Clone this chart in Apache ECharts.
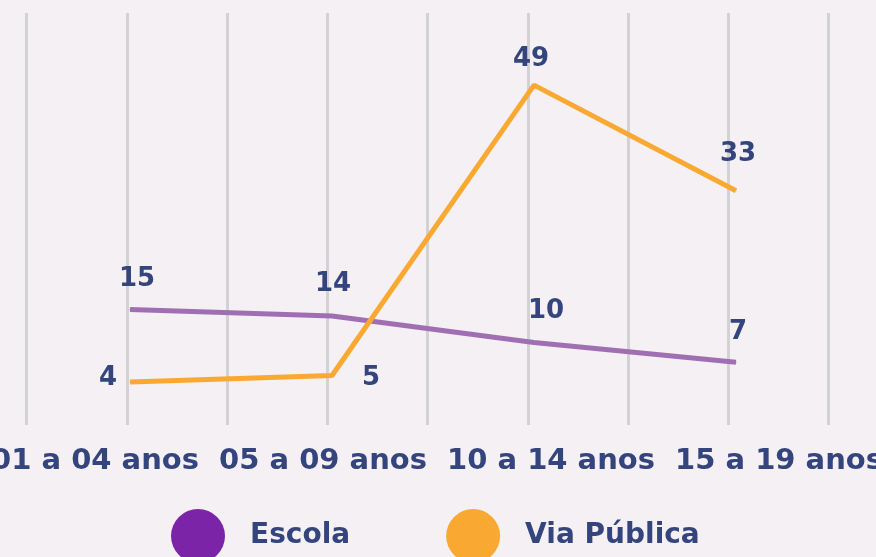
<!DOCTYPE html>
<html>
<head>
<meta charset="utf-8">
<script src="https://cdn.jsdelivr.net/npm/echarts@6/dist/echarts.min.js"></script>
<style>
html,body{margin:0;padding:0;background:#f4f0f3;}
#c{width:876px;height:557px;}
</style>
</head>
<body>
<div id="c"></div>
<script>
var categories = ['01 a 04 anos', '05 a 09 anos', '10 a 14 anos', '15 a 19 anos'];
var escola = [15, 14, 10, 7];
var viaPublica = [4, 5, 49, 33];
var seriesNames = ['Escola', 'Via Pública'];

// label offsets (style only)
var escolaLabelOffsets = [[7, -30], [1, -32], [12, -31], [2, -30]];
var viaLabelOffsets = [[-22, -4], [39, 3], [-3, -26], [2, -36]];

var textColor = '#34447c';
var font = 'DejaVu Sans';

function mkData(vals, offs) {
  return vals.map(function (v, i) {
    return { value: v, label: { offset: offs[i] } };
  });
}

var chart = echarts.init(document.getElementById('c'));
chart.setOption({
  backgroundColor: '#f4f0f3',
  animation: false,
  grid: [
    { left: 26.5, width: 802, top: 13, height: 412, outerBoundsMode: 'none' },
    { left: 29, width: 808, top: 12.5, height: 412.5, outerBoundsMode: 'none' },
    { left: -19, width: 912, top: 13, height: 412, outerBoundsMode: 'none' }
  ],
  xAxis: [
    { gridIndex: 0, type: 'value', min: 0, max: 8, interval: 1,
      axisLine: { show: false }, axisTick: { show: false }, axisLabel: { show: false },
      splitLine: { show: true, lineStyle: { color: '#d2d2d4', width: 3 } } },
    { gridIndex: 1, type: 'category', data: categories, boundaryGap: true,
      axisLine: { show: false }, axisTick: { show: false }, axisLabel: { show: false },
      splitLine: { show: false } },
    { gridIndex: 2, type: 'category', data: categories, boundaryGap: true,
      axisLine: { show: false }, axisTick: { show: false }, splitLine: { show: false },
      axisLabel: { show: true, interval: 0, margin: 22, color: textColor,
        fontFamily: font, fontWeight: 'bold', fontSize: 29 } }
  ],
  yAxis: [
    { gridIndex: 0, type: 'value', min: 0, max: 1, show: false, splitLine: { show: false } },
    { gridIndex: 1, type: 'value', min: -2.5, max: 60, show: false, splitLine: { show: false } },
    { gridIndex: 2, type: 'value', min: 0, max: 1, show: false, splitLine: { show: false } }
  ],
  legend: {
    left: 166, top: 504,
    icon: 'circle',
    itemWidth: 94, itemHeight: 54, itemGap: 96,
    textStyle: { color: textColor, fontFamily: font, fontWeight: 'bold', fontSize: 28 },
    data: [
      { name: seriesNames[0], itemStyle: { color: '#7b24a8' } },
      { name: seriesNames[1], itemStyle: { color: '#f9a832' } }
    ]
  },
  series: [
    { name: seriesNames[0], type: 'line', xAxisIndex: 1, yAxisIndex: 1,
      data: mkData(escola, escolaLabelOffsets),
      symbol: 'circle', symbolSize: 1,
      lineStyle: { color: '#a06fb3', width: 5 },
      itemStyle: { color: '#a06fb3' },
      label: { show: true, position: 'inside', color: textColor,
        fontFamily: font, fontWeight: 'bold', fontSize: 26 } },
    { name: seriesNames[1], type: 'line', xAxisIndex: 1, yAxisIndex: 1,
      data: mkData(viaPublica, viaLabelOffsets),
      symbol: 'circle', symbolSize: 1,
      lineStyle: { color: '#f9a832', width: 5 },
      itemStyle: { color: '#f9a832' },
      label: { show: true, position: 'inside', color: textColor,
        fontFamily: font, fontWeight: 'bold', fontSize: 26 } }
  ]
});
</script>
</body>
</html>
